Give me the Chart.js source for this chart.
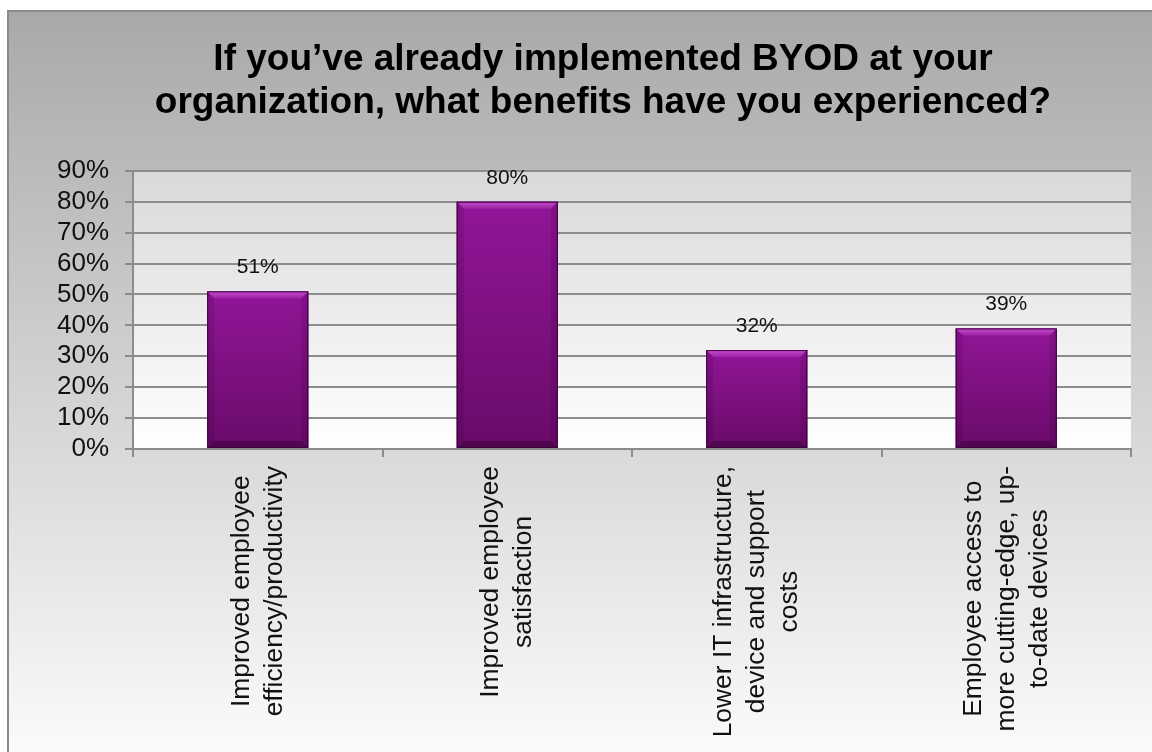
<!DOCTYPE html>
<html>
<head>
<meta charset="utf-8">
<title>BYOD benefits</title>
<script src="https://cdn.jsdelivr.net/npm/chart.js@4.4.1/dist/chart.umd.min.js"></script>
<style>
  html, body { margin: 0; padding: 0; background: #ffffff; overflow: hidden; }
  #frame {
    position: absolute; left: 7px; top: 10px; width: 1200px; height: 745px;
    border: 2px solid #8a8a8a; border-bottom: none; overflow: hidden;
    background: linear-gradient(to bottom, #a9a9a9 0%, #fbfbfb 100%);
  }
  #wrap { position: absolute; left: 0; top: 0; width: 1188px; height: 741px; }
</style>
</head>
<body>
<div id="frame">
  <div id="wrap"><canvas id="myChart"></canvas></div>
</div>
<script>
var titleLines = ["If you\u2019ve already implemented BYOD at your", "organization, what benefits have you experienced?"];
var categories = [
    ["Improved employee", "efficiency/productivity"],
    ["Improved employee", "satisfaction"],
    ["Lower IT infrastructure,", "device and support", "costs"],
    ["Employee access to", "more cutting-edge, up-", "to-date devices"]
];
var values = [51, 80, 32, 39];
var yTickLabels = ["0%", "10%", "20%", "30%", "40%", "50%", "60%", "70%", "80%", "90%"];

var fontName = '"Liberation Sans", Arial, sans-serif';
var gridGray = "#8c8c8c";

// plot area gradient, behind the grid
var plotBg = {
    id: "plotBg",
    beforeDraw: function(chart) {
        var a = chart.chartArea;
        var ctx = chart.ctx;
        var g = ctx.createLinearGradient(0, a.top, 0, a.bottom);
        g.addColorStop(0, "#d9d9d9");
        g.addColorStop(1, "#ffffff");
        ctx.save();
        ctx.fillStyle = g;
        ctx.fillRect(a.left, a.top, a.right - a.left, a.bottom - a.top);
        ctx.restore();
    }
};

// bevelled purple bars + value labels
var barLook = {
    id: "barLook",
    afterDatasetsDraw: function(chart) {
        var ctx = chart.ctx;
        var meta = chart.getDatasetMeta(0);
        meta.data.forEach(function(bar, i) {
            var p = bar.getProps(["x", "y", "base", "width"], true);
            var l = p.x - p.width / 2, r = p.x + p.width / 2, t = p.y, b = p.base;
            var bev = 7;
            ctx.save();
            var g = ctx.createLinearGradient(0, t, 0, b);
            g.addColorStop(0, "#911698");
            g.addColorStop(1, "#690b69");
            ctx.fillStyle = g;
            ctx.fillRect(l, t, r - l, b - t);
            // top bevel
            var tg = ctx.createLinearGradient(0, t, 0, t + bev);
            tg.addColorStop(0, "#c84ad0");
            tg.addColorStop(1, "#9d24a4");
            ctx.fillStyle = tg;
            ctx.beginPath();
            ctx.moveTo(l, t); ctx.lineTo(r, t); ctx.lineTo(r - bev, t + bev); ctx.lineTo(l + bev, t + bev);
            ctx.closePath(); ctx.fill();
            // side bevels
            ctx.fillStyle = "rgba(60,0,60,0.18)";
            ctx.beginPath();
            ctx.moveTo(l, t); ctx.lineTo(l + bev, t + bev); ctx.lineTo(l + bev, b - bev); ctx.lineTo(l, b);
            ctx.closePath(); ctx.fill();
            ctx.beginPath();
            ctx.moveTo(r, t); ctx.lineTo(r - bev, t + bev); ctx.lineTo(r - bev, b - bev); ctx.lineTo(r, b);
            ctx.closePath(); ctx.fill();
            // bottom bevel
            ctx.fillStyle = "rgba(40,0,40,0.4)";
            ctx.beginPath();
            ctx.moveTo(l, b); ctx.lineTo(l + bev, b - bev); ctx.lineTo(r - bev, b - bev); ctx.lineTo(r, b);
            ctx.closePath(); ctx.fill();
            ctx.strokeStyle = "#3c003c";
            ctx.lineWidth = 1;
            ctx.strokeRect(l + 0.5, t + 0.5, r - l - 1, b - t - 1);
            // value label
            ctx.fillStyle = "#111111";
            ctx.font = "21px " + fontName;
            ctx.textAlign = "center";
            ctx.textBaseline = "middle";
            ctx.fillText(values[i] + "%", p.x, t - 24);
            ctx.restore();
        });
    }
};

// rotated, centred multi-line category labels
var catLabels = {
    id: "catLabels",
    afterDraw: function(chart) {
        var ctx = chart.ctx;
        var xs = chart.scales.x;
        ctx.save();
        ctx.font = "26.4px " + fontName;
        ctx.fillStyle = "#111111";
        ctx.textAlign = "center";
        ctx.textBaseline = "middle";
        categories.forEach(function(lines, i) {
            var x = xs.getPixelForTick(i);
            var maxW = 0;
            lines.forEach(function(s) { maxW = Math.max(maxW, ctx.measureText(s).width); });
            ctx.save();
            ctx.translate(x, xs.top + 17);
            ctx.rotate(-Math.PI / 2);
            lines.forEach(function(s, j) {
                ctx.fillText(s, -maxW / 2, (j - (lines.length - 1) / 2) * 33);
            });
            ctx.restore();
        });
        ctx.restore();
    }
};

new Chart("myChart", {
    type: "bar",
    data: {
        labels: categories,
        datasets: [{
            data: values,
            backgroundColor: "#7d107f",
            borderWidth: 0,
            barPercentage: 0.405,
            categoryPercentage: 1.0
        }]
    },
    options: {
        responsive: true,
        maintainAspectRatio: false,
        animation: false,
        layout: { padding: { left: 40, right: 40, top: 0, bottom: 0 } },
        plugins: {
            legend: { display: false },
            tooltip: { enabled: false },
            title: {
                display: true,
                text: titleLines,
                color: "#000000",
                font: { family: fontName, size: 37, weight: "bold", lineHeight: 1.16 },
                padding: { top: 26, bottom: 47 }
            }
        },
        scales: {
            x: {
                offset: true,
                grid: { display: true, drawOnChartArea: false, drawTicks: true, tickLength: 8, color: gridGray, lineWidth: 2, offset: true },
                border: { display: true, color: gridGray, width: 2 },
                ticks: { display: false },
                afterFit: function(scale) { scale.height = 304; }
            },
            y: {
                min: 0,
                max: 90,
                ticks: {
                    stepSize: 10,
                    autoSkip: false,
                    padding: 16,
                    color: "#111111",
                    font: { family: fontName, size: 26 },
                    callback: function(v, i) { return yTickLabels[i]; }
                },
                grid: { color: gridGray, lineWidth: 2, tickLength: 8, drawTicks: true },
                border: { display: true, color: gridGray, width: 2 },
                afterFit: function(scale) { scale.width = 84; }
            },
            // empty spacer on the right so the title sits where the original has it
            y2: {
                position: "right",
                display: true,
                min: 0,
                max: 90,
                ticks: { display: false },
                grid: { display: false },
                border: { display: false },
                afterFit: function(scale) { scale.width = 26; }
            }
        }
    },
    plugins: [plotBg, barLook, catLabels]
});
</script>
</body>
</html>
